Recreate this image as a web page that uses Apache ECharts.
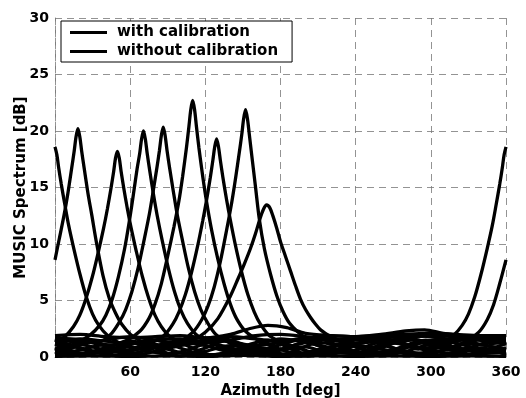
<!DOCTYPE html>
<html>
<head>
<meta charset="utf-8">
<script src="https://cdn.jsdelivr.net/npm/echarts@6/dist/echarts.min.js"></script>
<style>
  html, body { margin: 0; padding: 0; background: #fff; }
  #chart { width: 526px; height: 398px; }
</style>
</head>
<body>
<div id="chart"></div>
<script>
// axis ticks
const xTicks = [0, 60, 120, 180, 240, 300, 360];
const yTicks = [0, 5, 10, 15, 20, 25, 30];

// with calibration: one sharp peak per source direction, [azimuth deg, dB]
const cal0 = [[0,18.6],[1.5,17.9],[3,16.7],[5,15.3],[8,13.4],[11,11.6],[15,9.6],[20,7.3],[25,5.3],[30,3.8],[35,2.8],[42,1.9],[52,1.2],
  [62,0.8],[75,1.3],[90,0.7],[105,0.3],[120,0.8],[135,1.4],[150,1.0],[165,0.4],[180,0.6],[195,1.2],[210,1.6],[225,1.1],[240,0.5],[255,0.2],[270,0.6],[285,1.1],[298,1.3],
  [308,1.2],[318,1.9],[325,2.8],[330,3.8],[335,5.3],[340,7.3],[345,9.6],[349,11.6],[352,13.4],[355,15.3],[357,16.7],[358.5,17.9],[360,18.6]];
const cal20 = [[0,8.6],[3.3,10.4],[7.3,12.6],[10.3,14.5],[13.3,16.7],[15.3,18.2],[16.8,19.5],[18.3,20.2],[19.8,19.5],[21.3,18.2],[23.3,16.7],[26.3,14.5],[29.3,12.6],[33.3,10.0],[38.3,7.2],[43.3,5.2],[48.3,3.9],[53.3,2.9],[60.3,2.0],[70.3,1.3],
  [80,0.8],[92,0.3],[105,0.6],[120,1.2],[135,1.6],[150,1.1],[165,0.5],[180,0.2],[195,0.7],[210,1.3],[225,1.0],[240,0.4],[255,0.6],[270,1.2],[285,1.5],[300,1.0],[315,0.9],
  [328.3,1.4],[338.3,2.2],[345,3.3],[350,4.6],[355,6.5],[360,8.6]];
const cal50 = [[0,1.3],[7.8,1.8],[14.8,2.7],[19.8,3.7],[24.8,5.2],[29.8,7.1],[34.8,9.4],[38.8,11.4],[41.8,13.1],[44.8,15.0],[46.8,16.4],[48.3,17.6],[49.8,18.2],[51.3,17.6],[52.8,16.4],[54.8,15.0],[57.8,13.1],[60.8,11.4],[64.8,9.4],[69.8,7.1],[74.8,5.2],[79.8,3.7],[84.8,2.7],[91.8,1.8],[101.8,1.2],
  [112,0.7],[125,0.2],[140,0.5],[155,1.1],[170,1.5],[185,0.9],[200,0.3],[215,0.6],[230,1.2],[245,1.7],[260,1.2],[275,0.6],[290,0.3],[305,0.8],[320,1.4],[335,1.6],[348,1.2],[360,1.3]];
const cal70 = [[0,0.6],[10,0.9],[18.6,1.3],[28.6,2.0],[35.6,2.8],[40.6,3.7],[45.6,5.1],[50.6,7.1],[55.6,9.6],[59.6,12.2],[62.6,14.4],[65.6,16.7],[67.6,18.0],[69.1,19.3],[70.6,20.0],[72.1,19.3],[73.6,18.0],[75.6,16.5],[78.6,14.4],[81.6,12.5],[85.6,10.3],[90.6,7.8],[95.6,5.7],[100.6,4.1],[105.6,3.0],[112.6,2.0],[122.6,1.3],
  [135,0.8],[150,0.3],[165,0.6],[180,1.1],[195,1.5],[210,1.0],[225,0.4],[240,0.3],[255,0.9],[270,1.4],[285,1.0],[300,0.5],[315,0.7],[330,1.2],[345,1.0],[360,0.6]];
const cal90 = [[0,0.5],[12,1.0],[24,1.5],[34.4,1.3],[44.4,2.0],[51.4,3.1],[56.4,4.2],[61.4,5.8],[66.4,7.9],[71.4,10.5],[75.4,12.7],[78.4,14.7],[81.4,16.8],[83.4,18.3],[84.9,19.6],[86.4,20.35],[87.9,19.6],[89.4,18.3],[91.4,16.8],[94.4,14.7],[97.4,12.7],[101.4,10.5],[106.4,7.9],[111.4,5.8],[116.4,4.2],[121.4,3.1],[128.4,2.0],[138.4,1.3],
  [150,0.8],[162,0.3],[175,0.5],[190,1.0],[205,1.4],[220,1.7],[235,1.2],[250,0.6],[265,0.2],[280,0.5],[295,1.0],[310,1.4],[325,1.1],[340,0.7],[360,0.5]];
const cal110 = [[0,1.1],[12,0.6],[25,0.2],[38,0.6],[48,1.1],[57.9,1.5],[67.9,2.3],[74.9,3.4],[79.9,4.7],[84.9,6.5],[89.9,8.9],[94.9,11.5],[98.9,13.8],[101.9,16.0],[104.9,18.5],[106.9,20.4],[108.4,21.9],[109.9,22.7],[111.4,21.9],[112.9,20.4],[114.9,18.5],[117.9,16.0],[120.9,13.8],[124.9,11.3],[129.9,8.7],[134.9,6.5],[139.9,4.7],[144.9,3.4],[151.9,2.3],[161.9,1.5],
  [172,1.0],[185,0.5],[198,0.2],[212,0.6],[226,1.1],[240,1.5],[255,1.3],[270,0.8],[285,0.4],[300,0.3],[315,0.8],[330,1.3],[345,1.6],[360,1.1]];
const cal130 = [[0,0.3],[14,0.8],[28,1.3],[42,1.0],[55,0.5],[66,0.7],[77,1.3],[87,1.9],[94,2.9],[99,4.0],[104,5.5],[109,7.5],[114,9.9],[118,12.1],[121,13.9],[124,15.9],[126,17.4],[127.5,18.6],[129,19.3],[130.5,18.6],[132,17.4],[134,15.9],[137,13.9],[140,12.1],[144,9.9],[149,7.5],[154,5.5],[159,4.0],[164,2.9],[171,1.9],[181,1.3],
  [192,0.9],[205,0.4],[218,0.2],[232,0.7],[246,1.3],[260,1.7],[275,1.2],[290,0.7],[305,0.9],[320,0.5],[335,0.2],[348,0.5],[360,0.3]];
const cal150 = [[0,1.5],[12,1.1],[25,0.6],[38,0.3],[52,0.7],[65,1.2],[78,0.9],[90,1.0],[100.1,1.4],[110.1,2.2],[117.1,3.3],[122.1,4.5],[127.1,6.2],[132.1,8.5],[137.1,11.3],[141.1,13.7],[144.1,15.8],[147.1,18.1],[149.1,19.7],[150.6,21.1],[152.1,21.9],[153.6,21.1],[155.1,19.7],[157.1,17.8],[160.1,15.0],[163.1,12.2],[167.1,9.6],[172.1,7.3],[177.1,5.4],[182.1,4.0],[187.1,3.0],[194.1,2.2],[204.1,1.4],
  [215,0.9],[228,0.4],[242,0.3],[256,0.8],[270,1.3],[285,1.6],[300,1.1],[315,0.6],[330,0.8],[345,1.3],[360,1.5]];
const cal170 = [[0,0.8],[15,0.3],[30,0.5],[45,1.0],[60,1.4],[75,1.1],[88,0.8],[100,1.2],[110,1.5],[120,2.2],[130,3.4],[140,5.4],[146,6.9],[151,8.2],[156,9.6],[160,10.9],[163.5,12.2],[166.5,13.1],[168.9,13.45],[171.5,13.2],[174.2,12.4],[177,11.4],[180,10.2],[184,8.9],[188,7.6],[192,6.3],[196,5.1],[200,4.2],[204,3.5],[208,2.9],[212,2.4],[220,1.8],[230,1.3],
  [242,0.8],[255,0.4],[268,0.6],[282,1.1],[296,1.5],[310,1.2],[325,0.7],[340,0.4],[350,0.6],[360,0.8]];

// without calibration: flat spectra near the floor
const raw1 = [[0,1.9],[20,2.0],[40,1.8],[60,1.7],[80,1.8],[100,1.9],[120,1.7],[140,2.0],[155,2.5],[170,2.8],[185,2.6],[200,2.1],[220,1.9],[240,1.8],[260,1.9],[280,2.0],[300,2.1],[320,2.0],[340,1.9],[360,1.9]];
const raw2 = [[0,1.6],[20,1.3],[40,1.5],[60,1.8],[80,1.5],[100,1.2],[120,1.5],[140,1.8],[160,1.6],[180,1.4],[200,1.6],[220,1.9],[240,1.8],[260,2.0],[280,2.3],[295,2.4],[310,2.1],[330,1.8],[345,1.7],[360,1.6]];
const raw3 = [[0,0.2],[20,0.6],[40,1.1],[60,0.9],[80,0.4],[100,0.1],[120,0.5],[140,1.0],[160,0.8],[180,0.3],[200,0.1],[220,0.5],[240,1.0],[260,0.7],[280,0.3],[300,0.1],[320,0.4],[340,0.8],[360,0.2]];
const raw4 = [[0,1.2],[20,0.8],[40,0.3],[60,0.1],[80,0.5],[100,1.0],[120,1.3],[140,0.8],[160,0.3],[180,0.1],[200,0.4],[220,0.9],[240,1.2],[260,1.4],[280,1.6],[300,1.3],[320,0.8],[340,0.6],[360,1.2]];
const raw5 = [[0,0.05],[30,0.1],[60,0.05],[90,0.1],[120,0.05],[150,0.15],[180,0.05],[210,0.1],[240,0.05],[270,0.1],[300,0.05],[330,0.1],[360,0.05]];
const raw6 = [[0,1.7],[20,1.5],[40,1.0],[60,0.6],[80,1.0],[100,1.5],[120,1.7],[140,1.4],[160,1.0],[180,1.3],[200,1.7],[220,1.5],[240,1.2],[260,1.6],[280,1.9],[300,1.8],[320,1.5],[340,1.6],[360,1.7]];
const raw7 = [[0,0.7],[20,1.1],[40,0.6],[60,0.3],[80,0.8],[100,1.3],[120,1.0],[140,0.5],[160,1.0],[180,1.6],[200,1.3],[220,0.8],[240,0.3],[260,0.2],[280,0.8],[300,1.5],[320,1.6],[340,1.1],[360,0.7]];
const raw8 = [[0,1.4],[20,1.6],[40,1.4],[60,1.2],[80,1.5],[100,1.6],[120,1.3],[140,1.5],[160,1.9],[180,2.0],[200,1.8],[220,1.5],[240,1.6],[260,1.8],[280,1.7],[300,1.9],[320,1.8],[340,1.5],[360,1.4]];
const raw9 = [[0,0.4],[20,0.2],[40,0.5],[60,1.2],[80,1.5],[100,0.8],[120,0.2],[140,0.3],[160,0.8],[180,0.7],[200,0.9],[220,0.3],[240,0.6],[260,1.3],[280,1.1],[300,0.6],[320,0.2],[340,0.3],[360,0.4]];

const withCal = [cal0, cal20, cal50, cal70, cal90, cal110, cal130, cal150, cal170];
const withoutCal = [raw1, raw2, raw3, raw4, raw5, raw6, raw7, raw8, raw9];

const FONT = 'DejaVu Sans';
const gridLine = { color: '#777', width: 0.8, type: [7, 5] };

function makeSeries(name, data) {
  return {
    name: name,
    type: 'line',
    data: data,
    symbol: 'none',
    smooth: 0.3,
    lineStyle: { color: '#000', width: 3.3 },
    itemStyle: { color: '#000' },
    silent: true,
    animation: false
  };
}

const series = []
  .concat(withoutCal.map(d => makeSeries('without calibration', d)))
  .concat(withCal.map(d => makeSeries('with calibration', d)));

const chart = echarts.init(document.getElementById('chart'), null, { renderer: 'canvas' });

chart.setOption({
  backgroundColor: '#fff',
  animation: false,
  grid: { left: 55, right: 20, top: 18, bottom: 41, outerBoundsMode: 'none', containLabel: false },
  legend: {
    data: ['with calibration', 'without calibration'],
    orient: 'vertical',
    left: 61,
    top: 21,
    icon: 'rect',
    itemWidth: 37,
    itemHeight: 3,
    itemGap: 4,
    padding: [4, 14, 3, 9],
    backgroundColor: '#fff',
    borderColor: '#000',
    borderWidth: 1,
    borderRadius: 0,
    textStyle: { fontFamily: FONT, fontWeight: 'bold', fontSize: 15, color: '#000', lineHeight: 15, padding: [0, 0, 0, 5] }
  },
  xAxis: {
    type: 'value',
    min: xTicks[0],
    max: xTicks[xTicks.length - 1],
    interval: 60,
    name: 'Azimuth [deg]',
    nameLocation: 'middle',
    nameGap: 23,
    nameTextStyle: { fontFamily: FONT, fontWeight: 'bold', fontSize: 15, color: '#000' },
    axisLine: { lineStyle: gridLine },
    axisTick: { show: false },
    axisLabel: {
      margin: 8,
      fontFamily: FONT, fontWeight: 'bold', fontSize: 14, color: '#000',
      formatter: v => (v === 0 ? '' : String(v))
    },
    splitLine: { show: true, lineStyle: gridLine }
  },
  yAxis: {
    type: 'value',
    min: yTicks[0],
    max: yTicks[yTicks.length - 1],
    interval: 5,
    name: 'MUSIC Spectrum [dB]',
    nameLocation: 'middle',
    nameGap: 26,
    nameMoveOverlap: false,
    nameTextStyle: { fontFamily: FONT, fontWeight: 'bold', fontSize: 15, color: '#000' },
    axisLine: { show: true, lineStyle: gridLine },
    axisTick: { show: false },
    axisLabel: { margin: 6, fontFamily: FONT, fontWeight: 'bold', fontSize: 14, color: '#000' },
    splitLine: { show: true, lineStyle: gridLine }
  },
  series: series
});
</script>
</body>
</html>
